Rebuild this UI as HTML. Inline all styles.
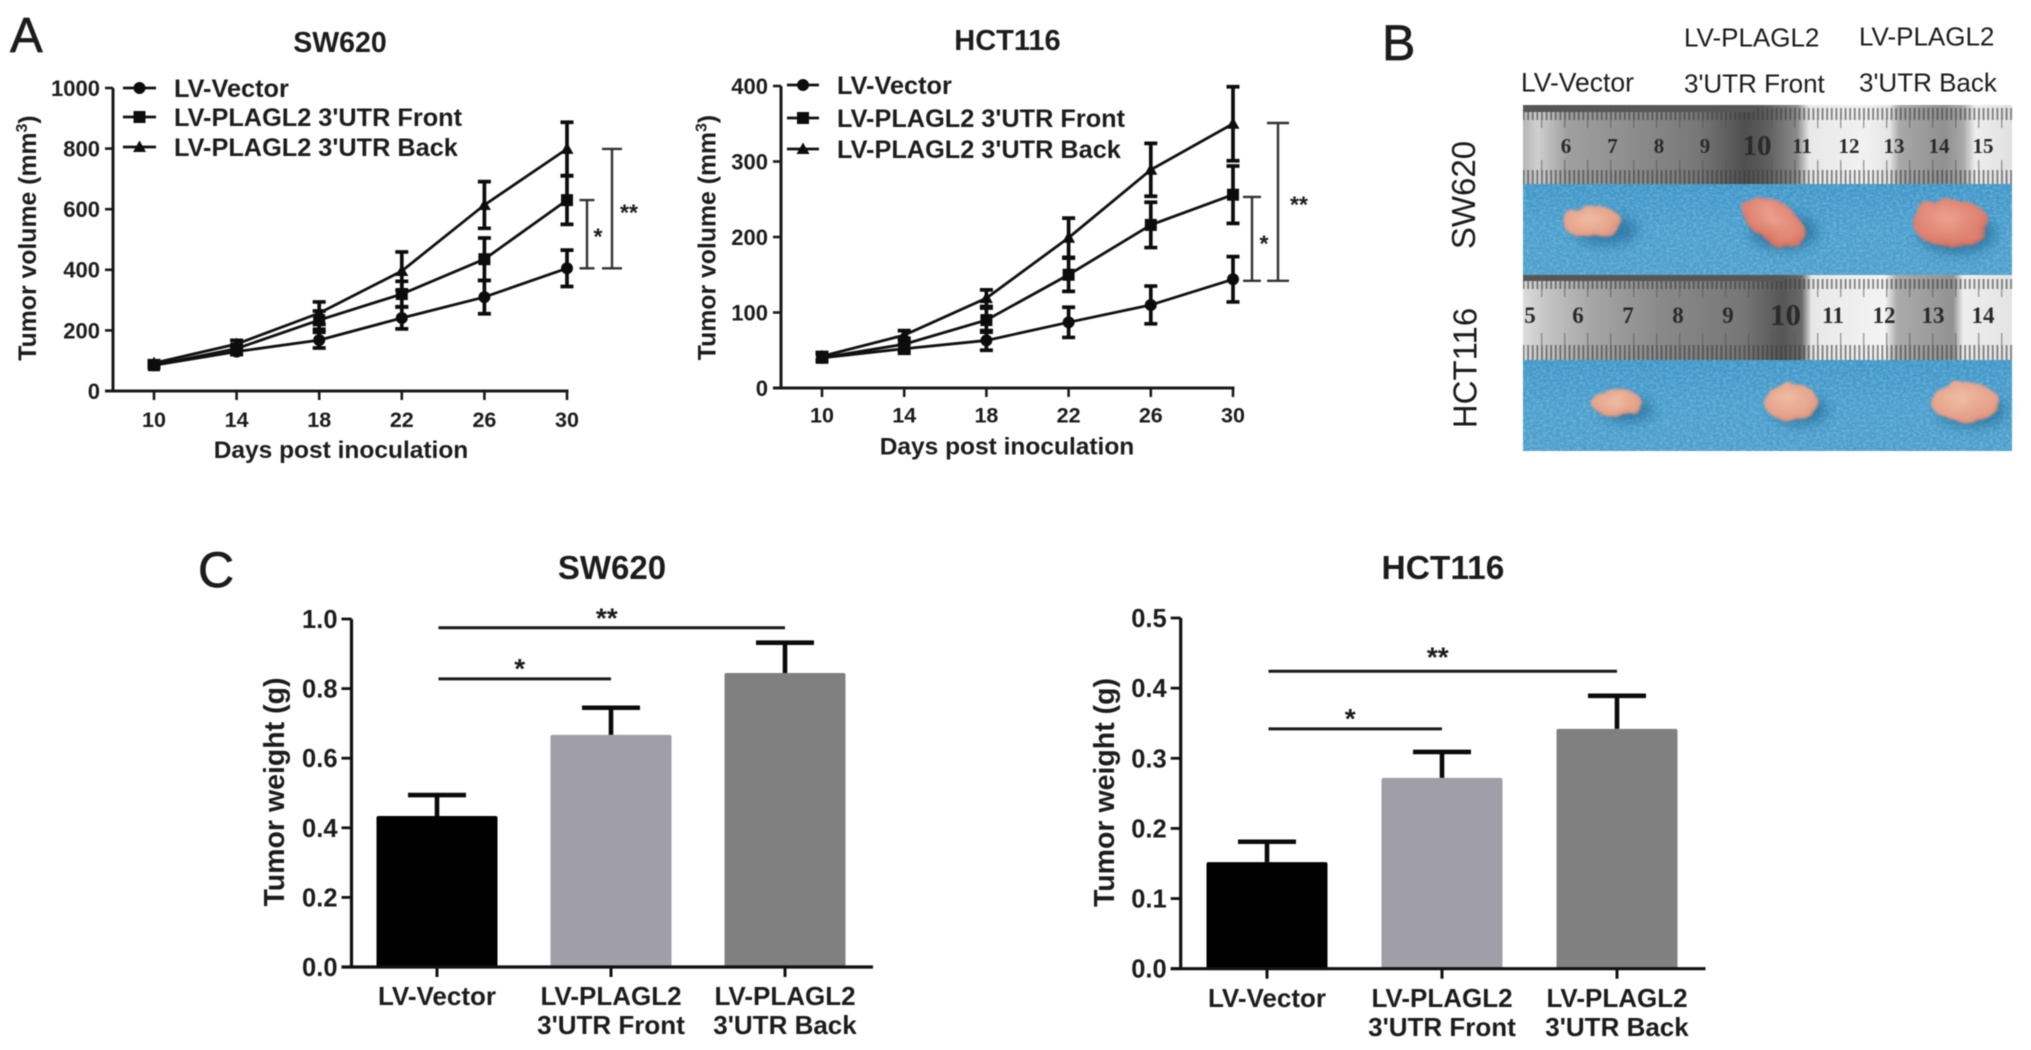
<!DOCTYPE html>
<html lang="en">
<head>
<meta charset="utf-8">
<title>Tumor growth figure</title>
<style>
html,body{margin:0;padding:0;background:#fff;width:2031px;height:1050px;overflow:hidden}
svg{display:block;filter:blur(.6px)}
text{font-family:"Liberation Sans",Arial,sans-serif;fill:#1c1c1c}
.b{font-weight:700}
.pl{stroke:#1c1c1c;stroke-width:.7px}
.rn{font-family:"Liberation Serif",serif;font-weight:700;fill:#2a2a2a;text-anchor:middle}
</style>
</head>
<body>
<svg id="figure" xmlns="http://www.w3.org/2000/svg" width="2031" height="1050" viewBox="0 0 2031 1050">
<defs>
<linearGradient id="rulerTop" x1="1523" x2="2012" y1="0" y2="0" gradientUnits="userSpaceOnUse">
<stop offset="0" stop-color="#b5b5b5"/><stop offset=".03" stop-color="#cfcfcf"/><stop offset=".09" stop-color="#a0a0a0"/><stop offset=".24" stop-color="#8b8b8b"/><stop offset=".36" stop-color="#777"/><stop offset=".455" stop-color="#4f4f4f"/><stop offset=".5" stop-color="#5e5e5e"/><stop offset=".56" stop-color="#8a8a8a"/><stop offset=".585" stop-color="#e8e8e8"/><stop offset=".7" stop-color="#f2f2f2"/><stop offset=".75" stop-color="#e4e4e4"/><stop offset=".77" stop-color="#a8a8a8"/><stop offset=".86" stop-color="#909090"/><stop offset=".9" stop-color="#a8a8a8"/><stop offset=".925" stop-color="#eee"/><stop offset="1" stop-color="#e0e0e0"/>
</linearGradient>
<linearGradient id="rulerBottom" x1="1523" x2="2012" y1="0" y2="0" gradientUnits="userSpaceOnUse">
<stop offset="0" stop-color="#dcdcdc"/><stop offset=".05" stop-color="#c4c4c4"/><stop offset=".14" stop-color="#a6a6a6"/><stop offset=".28" stop-color="#8a8a8a"/><stop offset=".45" stop-color="#777"/><stop offset=".53" stop-color="#565656"/><stop offset=".57" stop-color="#6a6a6a"/><stop offset=".59" stop-color="#e8e8e8"/><stop offset=".74" stop-color="#f4f4f4"/><stop offset=".765" stop-color="#ababab"/><stop offset=".88" stop-color="#929292"/><stop offset=".9" stop-color="#eee"/><stop offset="1" stop-color="#e4e4e4"/>
</linearGradient>
<linearGradient id="blueBand" x1="0" x2="0" y1="0" y2="1">
<stop offset="0" stop-color="#3f96c8"/><stop offset=".5" stop-color="#4a9fce"/><stop offset="1" stop-color="#4d9fcb"/>
</linearGradient>
<pattern id="hatch" width="4.6" height="10" patternUnits="userSpaceOnUse"><rect width="1.9" height="10" fill="#3a3a3a" opacity=".6"/></pattern>
<pattern id="halfCm" width="23" height="10" patternUnits="userSpaceOnUse"><rect width="1.4" height="10" fill="#555" opacity=".55"/></pattern>
<radialGradient id="tumorPale" cx=".45" cy=".4" r=".7"><stop offset="0" stop-color="#efbca4"/><stop offset=".7" stop-color="#e5a088"/><stop offset="1" stop-color="#c47d6b"/></radialGradient>
<radialGradient id="tumorRed" cx=".45" cy=".4" r=".7"><stop offset="0" stop-color="#eca08e"/><stop offset=".7" stop-color="#dd7f6d"/><stop offset="1" stop-color="#b0605a"/></radialGradient>
<filter id="shade" x="-50%" y="-50%" width="200%" height="200%"><feGaussianBlur stdDeviation="6"/></filter>
<filter id="lumpy" x="-20%" y="-20%" width="140%" height="140%"><feTurbulence type="fractalNoise" baseFrequency=".06" numOctaves="2" seed="4"/><feDisplacementMap in="SourceGraphic" scale="9"/><feGaussianBlur stdDeviation="1"/></filter>
<filter id="clothNoise" x="0" y="0" width="100%" height="100%"><feTurbulence type="fractalNoise" baseFrequency=".3 .4" numOctaves="2" seed="7"/><feColorMatrix values="0 0 0 0 .72  0 0 0 0 .86  0 0 0 0 .96  0 0 0 .55 -.2"/></filter>
</defs>
<rect width="2031" height="1050" fill="#fff"/>

<text class="pl" x="10" y="52" font-size="49">A</text>
<text class="pl" x="1382" y="60" font-size="50">B</text>
<text class="pl" x="198" y="587" font-size="50">C</text>

<text class="b" x="340" y="52" font-size="28.5" text-anchor="middle">SW620</text>
<text class="b" x="1007.5" y="50" font-size="29" text-anchor="middle">HCT116</text>
<text class="b" x="341" y="458" font-size="24.5" text-anchor="middle">Days post inoculation</text>
<text class="b" x="1007" y="454.5" font-size="24.5" text-anchor="middle">Days post inoculation</text>
<text class="b" font-size="24.8" text-anchor="middle" transform="translate(36 238) rotate(-90)">Tumor volume (mm<tspan font-size="16" dy="-9">3</tspan><tspan dy="9">)</tspan></text>
<text class="b" font-size="24.8" text-anchor="middle" transform="translate(715.5 237.5) rotate(-90)">Tumor volume (mm<tspan font-size="16" dy="-9">3</tspan><tspan dy="9">)</tspan></text>

<g id="chart-a1"></g>
<g id="chart-a2"></g>

<g>
  <text x="1521" y="91.5" font-size="26.5">LV-Vector</text>
  <text x="1684" y="46.5" font-size="26">LV-PLAGL2</text>
  <text x="1684" y="92.5" font-size="26">3'UTR Front</text>
  <text x="1859" y="45.5" font-size="26">LV-PLAGL2</text>
  <text x="1859" y="91.5" font-size="26">3'UTR Back</text>
  <text font-size="33" text-anchor="middle" transform="translate(1475 195) rotate(-90)">SW620</text>
  <text font-size="33" text-anchor="middle" transform="translate(1476.5 368) rotate(-90)">HCT116</text>

  <rect x="1523" y="105" width="489" height="79" fill="url(#rulerTop)"/>
  <rect x="1523" y="108" width="489" height="12" fill="url(#hatch)"/>
  <rect x="1523" y="170" width="489" height="14" fill="url(#hatch)"/>
  <rect x="1523" y="120" width="489" height="8" fill="url(#halfCm)"/>
  <rect x="1523" y="160" width="489" height="10" fill="url(#halfCm)"/>
  <rect x="1523" y="105" width="231" height="7" fill="#565656"/>
  <rect x="1523" y="184" width="489" height="91" fill="url(#blueBand)"/>
  <rect x="1523" y="184" width="489" height="91" filter="url(#clothNoise)"/>
  <rect x="1523" y="275" width="489" height="85" fill="url(#rulerBottom)"/>
  <rect x="1523" y="279" width="489" height="10" fill="url(#hatch)"/>
  <rect x="1523" y="345" width="489" height="15" fill="url(#hatch)"/>
  <rect x="1523" y="289" width="489" height="8" fill="url(#halfCm)"/>
  <rect x="1523" y="333" width="489" height="12" fill="url(#halfCm)"/>
  <rect x="1523" y="275" width="261" height="6" fill="#565656"/>
  <rect x="1523" y="360" width="489" height="91" fill="url(#blueBand)"/>
  <rect x="1523" y="360" width="489" height="91" filter="url(#clothNoise)"/>

  <g font-size="21">
    <text class="rn" x="1566" y="153">6</text>
    <text class="rn" x="1612.5" y="153">7</text>
    <text class="rn" x="1659" y="153">8</text>
    <text class="rn" x="1705" y="153">9</text>
    <text class="rn" x="1757" y="155" font-size="29">10</text>
    <text class="rn" x="1802" y="153">11</text>
    <text class="rn" x="1849" y="153">12</text>
    <text class="rn" x="1894" y="153">13</text>
    <text class="rn" x="1939" y="153">14</text>
    <text class="rn" x="1983" y="153">15</text>
  </g>
  <g font-size="23">
    <text class="rn" x="1530" y="323">5</text>
    <text class="rn" x="1578" y="323">6</text>
    <text class="rn" x="1628" y="323">7</text>
    <text class="rn" x="1678" y="323">8</text>
    <text class="rn" x="1728" y="323">9</text>
    <text class="rn" x="1785.5" y="325" font-size="31">10</text>
    <text class="rn" x="1833" y="323">11</text>
    <text class="rn" x="1884" y="323">12</text>
    <text class="rn" x="1933" y="323">13</text>
    <text class="rn" x="1983" y="323">14</text>
  </g>

  <g fill="#1f628f" opacity=".6" filter="url(#shade)">
    <ellipse cx="1606" cy="230" rx="32" ry="15"/><ellipse cx="1784" cy="232" rx="34" ry="18"/><ellipse cx="1958" cy="234" rx="38" ry="20"/>
    <ellipse cx="1628" cy="410" rx="26" ry="12"/><ellipse cx="1800" cy="410" rx="28" ry="15"/><ellipse cx="1972" cy="411" rx="34" ry="16"/>
  </g>
  <ellipse cx="1592" cy="222" rx="30" ry="16" fill="url(#tumorPale)" filter="url(#lumpy)"/>
  <ellipse cx="1774" cy="222" rx="36" ry="19" fill="url(#tumorRed)" filter="url(#lumpy)" transform="rotate(32 1774 222)"/>
  <ellipse cx="1951" cy="223" rx="38" ry="24" fill="url(#tumorRed)" filter="url(#lumpy)"/>
  <ellipse cx="1617" cy="403" rx="25" ry="14" fill="url(#tumorPale)" filter="url(#lumpy)"/>
  <ellipse cx="1791" cy="402" rx="27" ry="19" fill="url(#tumorPale)" filter="url(#lumpy)"/>
  <ellipse cx="1965" cy="402" rx="34" ry="20" fill="url(#tumorPale)" filter="url(#lumpy)"/>
</g>

<text class="b" x="612" y="579" font-size="33" text-anchor="middle">SW620</text>
<text class="b" x="1443" y="579" font-size="33.5" text-anchor="middle">HCT116</text>
<text class="b" font-size="28.5" text-anchor="middle" transform="translate(284 792) rotate(-90)">Tumor weight (g)</text>
<text class="b" font-size="28.5" text-anchor="middle" transform="translate(1114 792.5) rotate(-90)">Tumor weight (g)</text>

<g id="chart-c1"></g>
<g id="chart-c2"></g>
</svg>

<script>
/* ---------- data: panel A ---------- */
const days = [10, 14, 18, 22, 26, 30];
const sw620VolumeTicks = [0, 200, 400, 600, 800, 1000];
const hct116VolumeTicks = [0, 100, 200, 300, 400];
const legendLabels = ['LV-Vector', "LV-PLAGL2 3'UTR Front", "LV-PLAGL2 3'UTR Back"];

const sw620Vector = [85, 130, 168, 241, 310, 405];
const sw620VectorErr = [8, 10, 26, 36, 55, 60];
const sw620Front = [85, 140, 234, 320, 435, 630];
const sw620FrontErr = [8, 12, 30, 42, 70, 80];
const sw620Back = [92, 155, 257, 396, 614, 799];
const sw620BackErr = [8, 12, 37, 63, 77, 88];
const sw620BracketBase = [405, 405];
const sw620BracketTop = [630, 799];

const hct116Vector = [40, 52, 63, 87, 110, 144];
const hct116VectorErr = [5, 6, 13, 20, 25, 30];
const hct116Front = [40, 58, 90, 150, 216, 256];
const hct116FrontErr = [5, 8, 16, 22, 30, 38];
const hct116Back = [42, 70, 119, 199, 289, 350];
const hct116BackErr = [5, 6, 11, 26, 35, 49];
const hct116BracketBase = [142, 142];
const hct116BracketTop = [253, 351];
const bracketMarks = ['*', '**'];

/* ---------- data: panel C ---------- */
const groupLabels = [['LV-Vector'], ['LV-PLAGL2', "3'UTR Front"], ['LV-PLAGL2', "3'UTR Back"]];
const sw620WeightTicks = [0, 0.2, 0.4, 0.6, 0.8, 1.0];
const sw620Weight = [0.434, 0.667, 0.845];
const sw620WeightErr = [0.06, 0.078, 0.087];
const sw620SigFrom = [0, 0];
const sw620SigTo = [1, 2];
const sw620SigLevel = [0.828, 0.975];
const hct116WeightTicks = [0, 0.1, 0.2, 0.3, 0.4, 0.5];
const hct116Weight = [0.152, 0.272, 0.342];
const hct116WeightErr = [0.029, 0.037, 0.047];
const hct116SigFrom = [0, 0];
const hct116SigTo = [1, 2];
const hct116SigLevel = [0.342, 0.424];

/* ---------- helpers ---------- */
const NS = 'http://www.w3.org/2000/svg';
function mk(tag, attrs, parent, txt) {
  const n = document.createElementNS(NS, tag);
  for (const k in attrs) n.setAttribute(k, attrs[k]);
  if (txt !== undefined) n.textContent = txt;
  parent.appendChild(n);
  return n;
}
function linear(d0, d1, r0, r1) {
  return v => r0 + (v - d0) / (d1 - d0) * (r1 - r0);
}
function markerNode(kind, x, y, parent) {
  if (kind === 'circle') return mk('circle', {cx: x, cy: y, r: 6, fill: '#0c0c0c'}, parent);
  if (kind === 'square') return mk('rect', {x: x - 6, y: y - 6, width: 12, height: 12, fill: '#0c0c0c'}, parent);
  return mk('path', {d: 'M' + x + ' ' + (y - 6.5) + 'L' + (x + 6.5) + ' ' + (y + 5) + 'L' + (x - 6.5) + ' ' + (y + 5) + 'Z', fill: '#0c0c0c'}, parent);
}

/* ---------- panel A line chart ---------- */
function drawLineChart(root, c, ticks, series) {
  const xp = linear(days[0], days[days.length - 1], c.x10, c.x30);
  const yp = linear(0, ticks[ticks.length - 1], c.y0, c.yTop);

  const yAxis = mk('path', {d: 'M' + c.axisX + ' ' + c.yTop + 'V' + c.y0, stroke: '#1a1a1a', 'stroke-width': 3, fill: 'none'}, root);
  
  
  const xAxis = mk('path', {d: 'M' + (c.axisX - 8) + ' ' + c.y0 + 'H' + (c.x30 + 1.5), stroke: '#1a1a1a', 'stroke-width': 3, fill: 'none'}, root);
  
  

  ticks.forEach(t => {
    const tk = mk('path', {d: 'M' + (c.axisX - 8) + ' ' + yp(t) + 'H' + c.axisX, stroke: '#1a1a1a', 'stroke-width': 2.6, fill: 'none'}, root);
    
    
    const lb = mk('text', {x: c.axisX - 13, y: yp(t) + 7.9, 'font-size': 22, 'font-weight': 700, 'text-anchor': 'end'}, root, String(t));
    
    
  });
  days.forEach(d => {
    const tk = mk('path', {d: 'M' + xp(d) + ' ' + c.y0 + 'v9', stroke: '#1a1a1a', 'stroke-width': 2.6, fill: 'none'}, root);
    
    
    const lb = mk('text', {x: xp(d), y: c.xLabelY, 'font-size': 21.5, 'font-weight': 700, 'text-anchor': 'middle'}, root, String(d));
    
    
  });

  series.forEach(s => {
    const g = mk('g', {}, root);
    
    
    s.err.forEach((e, i) => {
      const x = xp(days[i]), hi = yp(s.val[i] + e), lo = yp(s.val[i] - e);
      const eb = mk('path', {d: 'M' + x + ' ' + hi + 'V' + lo + 'M' + (x - 6.5) + ' ' + hi + 'h13M' + (x - 6.5) + ' ' + lo + 'h13', stroke: '#0c0c0c', 'stroke-width': 3.7, fill: 'none'}, g);
      
      
    });
    const d = s.val.map((v, i) => (i ? 'L' : 'M') + xp(days[i]) + ' ' + yp(v)).join('');
    const ln = mk('path', {d: d, stroke: '#111', 'stroke-width': 2.8, fill: 'none'}, g);
    
    
    s.val.forEach((v, i) => {
      const m = markerNode(s.marker, xp(days[i]), yp(v), g);
      
      
    });
  });

  c.brackets.base.forEach((b, i) => {
    const bx = c.brackets.x[i], hw = c.brackets.hw[i], y1 = yp(b), y2 = yp(c.brackets.top[i]);
    const br = mk('path', {d: 'M' + bx + ' ' + y1 + 'V' + y2 + 'M' + (bx - hw) + ' ' + y1 + 'h' + 2 * hw + 'M' + (bx - hw) + ' ' + y2 + 'h' + 2 * hw, stroke: '#333', 'stroke-width': 2.4, fill: 'none'}, root);
    
    
    const st = mk('text', {x: c.brackets.starX[i], y: c.brackets.starY[i] + 12.5, 'font-size': 23, 'font-weight': 700, 'text-anchor': 'middle', fill: '#333'}, root, bracketMarks[i]);
    
    
  });

  series.forEach((s, i) => {
    const ly = c.legendY[i];
    const g = mk('g', {}, root);
    
    
    mk('path', {d: 'M' + c.legendX0 + ' ' + ly + 'H' + c.legendX1, stroke: '#111', 'stroke-width': 2.8, fill: 'none'}, g);
    markerNode(s.marker, (c.legendX0 + c.legendX1) / 2, ly, g);
    mk('text', {x: c.legendText, y: ly + 9, 'font-size': 25.3, 'font-weight': 700}, g, legendLabels[i]);
  });
}

drawLineChart(document.getElementById('chart-a1'), {
  x10: 154, x30: 567, y0: 391, yTop: 88, axisX: 113, xLabelY: 427,
  legendX0: 123, legendX1: 156, legendText: 174, legendY: [88, 117, 147],
  brackets: {base: sw620BracketBase, top: sw620BracketTop, x: [587, 612], hw: [7.5, 10], starX: [598, 629], starY: [232, 208]}
}, sw620VolumeTicks, [
  {key: 'vector', val: sw620Vector, err: sw620VectorErr, marker: 'circle'},
  {key: 'front', val: sw620Front, err: sw620FrontErr, marker: 'square'},
  {key: 'back', val: sw620Back, err: sw620BackErr, marker: 'triangle'}
]);

drawLineChart(document.getElementById('chart-a2'), {
  x10: 822, x30: 1233, y0: 388, yTop: 86, axisX: 781, xLabelY: 422.5,
  legendX0: 787, legendX1: 819, legendText: 837, legendY: [85, 118, 149],
  brackets: {base: hct116BracketBase, top: hct116BracketTop, x: [1252, 1278], hw: [9, 11], starX: [1264, 1299], starY: [239, 200]}
}, hct116VolumeTicks, [
  {key: 'vector', val: hct116Vector, err: hct116VectorErr, marker: 'circle'},
  {key: 'front', val: hct116Front, err: hct116FrontErr, marker: 'square'},
  {key: 'back', val: hct116Back, err: hct116BackErr, marker: 'triangle'}
]);

/* ---------- panel C bar chart ---------- */
function drawBarChart(root, c, ticks, vals, errs, sigFrom, sigTo, sigLevel) {
  const yp = linear(0, ticks[ticks.length - 1], c.y0, c.yTop);
  const xp = linear(0, groupLabels.length - 1, c.xFirst, c.xLast);

  vals.forEach((v, i) => {
    const x = xp(i), top = yp(v), cap = yp(v + errs[i]);
    const eb = mk('path', {d: 'M' + x + ' ' + top + 'V' + cap + 'M' + (x - 29) + ' ' + cap + 'h58', stroke: '#0a0a0a', 'stroke-width': 4.6, fill: 'none'}, root);
    
    
    const bar = mk('rect', {x: x - 60.5, y: top, width: 121, height: c.y0 - top, rx: 2, fill: c.colors[i]}, root);
    
    
  });

  const yAxis = mk('path', {d: 'M' + c.axisX + ' ' + c.yTop + 'V' + c.y0, stroke: '#111', 'stroke-width': 3.2, fill: 'none'}, root);
  
  
  const xAxis = mk('path', {d: 'M' + (c.axisX - 10) + ' ' + c.y0 + 'H' + c.xEnd, stroke: '#111', 'stroke-width': 3.2, fill: 'none'}, root);
  
  

  ticks.forEach(t => {
    const tk = mk('path', {d: 'M' + (c.axisX - 10) + ' ' + yp(t) + 'H' + c.axisX, stroke: '#111', 'stroke-width': 2.8, fill: 'none'}, root);
    
    
    const lb = mk('text', {x: c.axisX - 14, y: yp(t) + 9, 'font-size': 25.5, 'font-weight': 700, 'text-anchor': 'end'}, root, t.toFixed(1));
    
    
  });

  groupLabels.forEach((lines, i) => {
    const tk = mk('path', {d: 'M' + xp(i) + ' ' + c.y0 + 'v10', stroke: '#111', 'stroke-width': 3, fill: 'none'}, root);
    
    
    lines.forEach((s, j) => {
      const lb = mk('text', {x: xp(i), y: c.labelY[j], 'font-size': 26, 'font-weight': 700, 'text-anchor': 'middle'}, root, s);
      
      
    });
  });

  sigLevel.forEach((lv, i) => {
    const x1 = xp(sigFrom[i]) + 1.5, x2 = xp(sigTo[i]), y = yp(lv);
    const ln = mk('path', {d: 'M' + x1 + ' ' + y + 'H' + x2, stroke: '#1a1a1a', 'stroke-width': 3, fill: 'none'}, root);
    
    
    const st = mk('text', {x: (x1 + x2) / 2 - 5, y: y - c.starGap[i] + 15, 'font-size': 28, 'font-weight': 700, 'text-anchor': 'middle'}, root, bracketMarks[i]);
    
    
  });
}

drawBarChart(document.getElementById('chart-c1'), {
  y0: 967, yTop: 619, axisX: 351.5, xEnd: 873, xFirst: 437, xLast: 785,
  labelY: [1005, 1034], starGap: [16, 15], colors: ['#000000', '#a09fa8', '#808080']
}, sw620WeightTicks, sw620Weight, sw620WeightErr, sw620SigFrom, sw620SigTo, sw620SigLevel);

drawBarChart(document.getElementById('chart-c2'), {
  y0: 968.7, yTop: 618, axisX: 1180.7, xEnd: 1705.5, xFirst: 1267, xLast: 1617,
  labelY: [1007, 1036], starGap: [16, 20], colors: ['#000000', '#a09fa8', '#808080']
}, hct116WeightTicks, hct116Weight, hct116WeightErr, hct116SigFrom, hct116SigTo, hct116SigLevel);
</script>
</body>
</html>
